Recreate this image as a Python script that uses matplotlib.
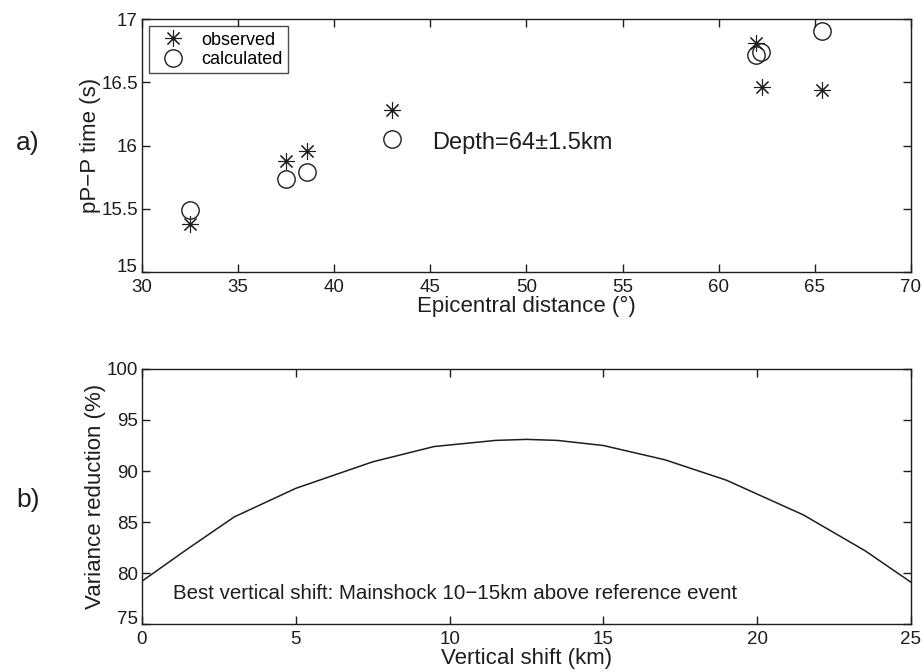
import matplotlib
matplotlib.use("Agg")
import matplotlib.pyplot as plt
from matplotlib.transforms import ScaledTranslation

plt.rcParams['font.family'] = ['Liberation Sans', 'DejaVu Sans']

# Panel a) pP-P times
obs_dist = [32.5, 37.5, 38.6, 43.0, 61.95, 62.25, 65.35]
obs_time = [15.38, 15.88, 15.96, 16.28, 16.81, 16.46, 16.44]
calc_dist = [32.5, 37.5, 38.6, 43.0, 61.95, 62.2, 65.35]
calc_time = [15.49, 15.74, 15.79, 16.05, 16.72, 16.74, 16.91]

# Panel b) variance reduction vs vertical shift
shift_km = [0, 1.5, 3, 5, 7.5, 9.5, 11.5, 12.5, 13.5, 15, 17, 19, 21.5, 23.5, 25]
var_red = [79.2, 82.4, 85.5, 88.3, 90.9, 92.4, 93.0, 93.1, 93.0, 92.5, 91.1, 89.1, 85.7, 82.2, 79.1]

INK = "#1e1e1e"
TICK_FS = 13.5
LABEL_FS = 16

fig = plt.figure(figsize=(9.22, 6.72), dpi=100)
ax_a = fig.add_axes([0.154, 0.595, 0.834, 0.3765])
ax_b = fig.add_axes([0.154, 0.0714, 0.834, 0.3795])

# a) scatter of observed and calculated
ax_a.plot(obs_dist, obs_time, linestyle="none", marker=(8, 2, 0), markersize=12,
          markeredgewidth=0.8, color=INK, label="observed")
ax_a.plot(calc_dist, calc_time, linestyle="none", marker="o", markersize=12.5,
          markerfacecolor="none", markeredgewidth=1.0, color=INK, label="calculated")
ax_a.set_xlim(30, 70)
ax_a.set_ylim(15, 17)
ax_a.set_xticks(range(30, 71, 5))
ax_a.set_yticks([15, 15.5, 16, 16.5, 17])
ax_a.set_yticklabels(["15", "15.5", "16", "16.5", "17"])
ax_a.set_xlabel("Epicentral distance (°)", fontsize=LABEL_FS, color=INK, labelpad=0)
ax_a.set_ylabel("pP\u2212P time (s)", fontsize=LABEL_FS, color=INK, labelpad=0)
ax_a.text(45.1, 16.02, "Depth=64\u00b11.5km", fontsize=17, color=INK, va="center")
leg = ax_a.legend(loc="upper left", fontsize=13, frameon=True, fancybox=False,
                  borderpad=0.3, handletextpad=0.6, labelspacing=0.12,
                  borderaxespad=0.4, handlelength=2.0)
leg.get_frame().set_edgecolor(INK)
leg.get_frame().set_linewidth(1.0)

# b) variance reduction curve
ax_b.plot(shift_km, var_red, color=INK, linewidth=1.1)
ax_b.set_xlim(0, 25)
ax_b.set_ylim(75, 100)
ax_b.set_xticks(range(0, 26, 5))
ax_b.set_yticks(range(75, 101, 5))
ax_b.set_xlabel("Vertical shift (km)", fontsize=LABEL_FS, color=INK, labelpad=0)
ax_b.set_ylabel("Variance reduction (%)", fontsize=LABEL_FS, color=INK, labelpad=0)
ax_b.text(1.0, 78.0, "Best vertical shift: Mainshock 10\u221215km above reference event",
          fontsize=14.8, color=INK, va="center")

for ax in (ax_a, ax_b):
    ax.tick_params(direction="in", top=True, right=True, length=6, width=1.0,
                   labelsize=TICK_FS, colors=INK)
    ax.tick_params(axis="x", pad=5)
    ax.tick_params(axis="y", pad=3)
    for sp in ax.spines.values():
        sp.set_linewidth(1.0)
        sp.set_color(INK)
    # lift the lowest y label a little so it clears the first x label (MATLAB look)
    fig.canvas.draw()
    lowest = ax.get_yticklabels()[0]
    lowest.set_transform(lowest.get_transform() + ScaledTranslation(0, 5 / 72, fig.dpi_scale_trans))

fig.text(0.030, 0.787, "a)", fontsize=19, color=INK, ha="center", va="center")
fig.text(0.030, 0.256, "b)", fontsize=19, color=INK, ha="center", va="center")

fig.savefig("out.png", dpi=100)
